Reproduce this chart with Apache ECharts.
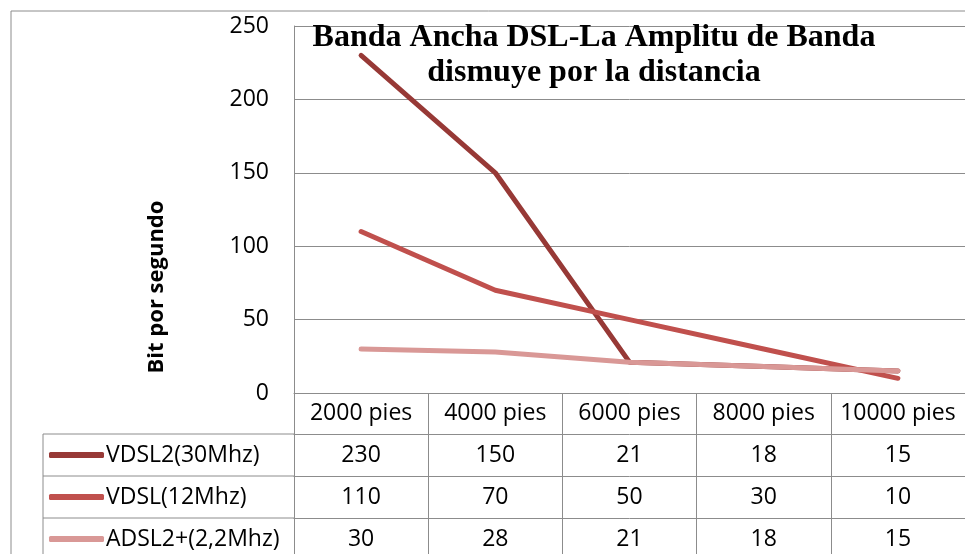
<!DOCTYPE html>
<html>
<head>
<meta charset="utf-8">
<script src="https://cdn.jsdelivr.net/npm/echarts@6/dist/echarts.min.js"></script>
<style>
  html, body { margin: 0; padding: 0; background: #fff; }
  #chart { width: 965px; height: 554px; }
</style>
</head>
<body>
<div id="chart"></div>
<script>
// data
let categories = ['2000 pies', '4000 pies', '6000 pies', '8000 pies', '10000 pies'];
let seriesNames = ['VDSL2(30Mhz)', 'VDSL(12Mhz)', 'ADSL2+(2,2Mhz)'];
let vdsl2 = [230, 150, 21, 18, 15];
let vdsl = [110, 70, 50, 30, 10];
let adsl2 = [30, 28, 21, 18, 15];
let rows = [vdsl2, vdsl, adsl2];
let colors = ['#973936', '#c0504d', '#d99896'];

let gridColor = '#8c8c8c';
let labelFont = 'Open Sans, sans-serif';

/**************** TABLE AXES ************/
let xAxes = [{
    type: 'category',
    data: categories,
    position: 'bottom',
    boundaryGap: true,
    axisLine: { show: true, lineStyle: { color: gridColor, width: 1 } },
    axisTick: { show: true, interval: 0, length: 170, lineStyle: { color: gridColor, width: 1 } },
    axisLabel: {
        interval: 0,
        margin: 20,
        verticalAlign: 'middle',
        color: '#000',
        fontSize: 23,
        fontFamily: labelFont
    }
}];
let offsets = [41, 83, 125];
rows.forEach(function (row, k) {
    xAxes.push({
        type: 'category',
        data: categories,
        position: 'bottom',
        offset: offsets[k],
        axisLine: { show: true, lineStyle: { color: gridColor, width: 1 } },
        axisTick: { show: false },
        axisLabel: {
            interval: 0,
            margin: 21,
            verticalAlign: 'middle',
            color: '#000',
            fontSize: 23,
            fontFamily: labelFont,
            formatter: function (v, i) { return String(row[i]); }
        }
    });
});

let lineSeries = rows.map(function (row, k) {
    return {
        name: seriesNames[k],
        type: 'line',
        data: row,
        symbol: 'none',
        showSymbol: false,
        lineStyle: { color: colors[k], width: 5, cap: 'round', join: 'round' },
        itemStyle: { color: colors[k] }
    };
});

let option = {
    animation: false,
    backgroundColor: '#fff',
    title: {
        text: 'Banda Ancha DSL-La Amplitu de Banda\ndismuye por la distancia',
        left: 589,
        top: 15,
        textAlign: 'center',
        textStyle: {
            fontFamily: 'Liberation Serif, serif',
            fontWeight: 'bold',
            fontSize: 32,
            lineHeight: 35,
            color: '#000'
        }
    },
    legend: {
        data: seriesNames,
        orient: 'vertical',
        left: 49,
        top: 442,
        padding: 0,
        icon: 'roundRect',
        itemWidth: 55,
        itemHeight: 6,
        itemGap: 16,
        textStyle: {
            fontSize: 23,
            lineHeight: 26,
            fontFamily: labelFont,
            color: '#000',
            padding: [0, 0, 0, -3]
        }
    },
    grid: { left: 294, top: 26, width: 681, height: 367, containLabel: false },
    xAxis: xAxes,
    yAxis: {
        type: 'value',
        min: 0,
        max: 250,
        interval: 50,
        axisLine: { show: true, lineStyle: { color: gridColor, width: 1 } },
        axisTick: { show: false },
        axisLabel: {
            margin: 25,
            color: '#000',
            fontSize: 23,
            fontFamily: labelFont
        },
        splitLine: { show: true, lineStyle: { color: gridColor, width: 1 } }
    },
    graphic: [
        { type: 'rect', shape: { x: 11, y: 11, width: 1000, height: 600 }, style: { fill: 'none', stroke: gridColor, lineWidth: 1 }, z: -10 },
        { type: 'line', shape: { x1: 43, y1: 434, x2: 294, y2: 434 }, style: { stroke: gridColor, lineWidth: 1 } },
        { type: 'line', shape: { x1: 43, y1: 476, x2: 294, y2: 476 }, style: { stroke: gridColor, lineWidth: 1 } },
        { type: 'line', shape: { x1: 43, y1: 518, x2: 294, y2: 518 }, style: { stroke: gridColor, lineWidth: 1 } },
        { type: 'line', shape: { x1: 43, y1: 434, x2: 43, y2: 560 }, style: { stroke: gridColor, lineWidth: 1 } },
        {
            type: 'text',
            x: 157,
            y: 287,
            rotation: Math.PI / 2,
            style: {
                text: 'Bit por segundo',
                fontSize: 22,
                fontWeight: 'bold',
                fontFamily: labelFont,
                fill: '#000',
                align: 'center',
                verticalAlign: 'middle'
            }
        }
    ],
    series: lineSeries
};

let chart = echarts.init(document.getElementById('chart'));
chart.setOption(option);
</script>
</body>
</html>
